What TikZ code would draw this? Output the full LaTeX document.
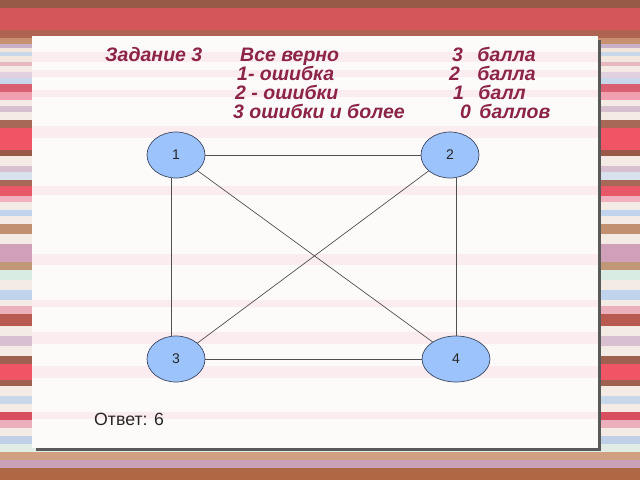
\documentclass[tikz,border=0pt]{standalone}
\usepackage{fontspec}
\setmainfont{Liberation Sans}
\usetikzlibrary{shapes.geometric}
\definecolor{txtred}{RGB}{140,36,72}
\definecolor{nodefill}{RGB}{156,195,252}
\definecolor{nodeline}{RGB}{60,72,96}
\definecolor{edgecol}{RGB}{80,80,80}
\definecolor{panelbg}{RGB}{253,251,250}
\definecolor{faintpink}{RGB}{251,236,239}
\tikzset{
  vert/.style={ellipse, draw=nodeline, line width=0.7pt, fill=nodefill,
    minimum width=58pt, minimum height=46pt, inner sep=0pt,
    font=\fontsize{14}{16}\selectfont, text=black!85},
  edge/.style={draw=edgecol, line width=0.7pt},
  head/.style={anchor=base west, inner sep=0pt, text=txtred,
    font=\fontsize{19.5}{22}\selectfont\bfseries\itshape}
}
\begin{document}
\begin{tikzpicture}[x=1pt,y=-1pt]
\useasboundingbox (0,0) rectangle (640,480);
% background stripes
\foreach \ya/\yb/\c in {
 0/8/965A46, 8/30/D4555A, 30/38/AF6452,
 38/44/C89070, 44/48/C8B0C8, 48/52/EFE5DA,
 52/56/C8D8EA, 56/62/F2E8E0, 62/66/E8B8C0,
 66/72/F4ECE4, 72/78/E0D0E0, 78/84/C8D8EA,
 84/92/D86070, 92/100/F0A0B0, 100/106/F4ECE4,
 106/112/D8C0D0, 112/120/F4ECE4, 120/128/A86858,
 128/150/F05565, 150/156/9A5A4A, 156/166/F4ECE4,
 166/172/D8C0D0, 172/180/D8E2EE, 180/186/A86858,
 186/196/E85868, 196/202/F0B0BE, 202/210/F4ECE4,
 210/216/C0D4EE, 216/224/F4ECE4, 224/234/C09070,
 234/244/F4ECE4, 244/262/D0A0B8, 262/270/C09878,
 270/280/D8ECE4, 280/290/F4ECE4, 290/300/C0D4EE,
 300/306/F4ECE4, 306/314/ECB0BC, 314/326/B85A50,
 326/336/F4ECE4, 336/346/D8C0D0, 346/356/F4ECE4,
 356/364/A06050, 364/380/F05565, 380/386/A06050,
 386/396/F4ECE4, 396/404/C8D8EA, 404/412/F4ECE4,
 412/420/D85060, 420/428/ECB0BC, 428/436/F4ECE4,
 436/444/C0D0E8, 444/452/E0ECE4, 452/460/D0A080,
 460/468/C8A0B8, 468/480/B06844}
{
  \definecolor{tmpc}{HTML}{\c}
  \fill[tmpc] (0,\ya) rectangle (640,\yb);
}
% panel shadow and panel
\fill[black!65] (36,40) rectangle (601,451);
\fill[panelbg] (32,36) rectangle (598,448);
\foreach \ya/\yb in {52/62, 70/77, 90/97, 126/138, 186/195, 254/265, 300/307, 332/344, 366/378, 412/419}
  \fill[faintpink] (32,\ya) rectangle (598,\yb);
% headings
\node[head] (t1) at (105,61) {Задание 3};
\node[head] (t2) at (240,61) {Все верно};
\node[head] (t3) at (237,80) {1- ошибка};
\node[head] (t4) at (235,99) {2 - ошибки};
\node[head] (t5) at (233,118) {3 ошибки и более};
\node[head] (s1) at (452,61) {3\hspace{9pt} балла};
\node[head] (s2) at (449,80) {2\hspace{12pt} балла};
\node[head] (s3) at (453,99) {1\hspace{9pt} балл};
\node[head] (s4) at (460,118) {0\hspace{3pt} баллов};
% graph
\node[vert] (n1) at (176,155) {1};
\node[vert] (n2) at (450,155) {2};
\node[vert] (n3) at (176,359) {3};
\node[vert, minimum width=68pt] (n4) at (456,359) {4};
\draw[edge] (n1) -- (n2);
\draw[edge] (n3) -- (n4);
\draw[edge] ([xshift=-5pt]n1.south) -- ([xshift=-5pt]n3.north);
\draw[edge] ([xshift=6pt]n2.south) -- (n4.north);
\draw[edge] (n1) -- (n4);
\draw[edge] (n2) -- (n3);
% answer
\node[anchor=base west, inner sep=0pt, font=\fontsize{17.7}{20}\selectfont, text=black!85] (ans) at (94,425) {Ответ: 6};
\end{tikzpicture}
\end{document}
